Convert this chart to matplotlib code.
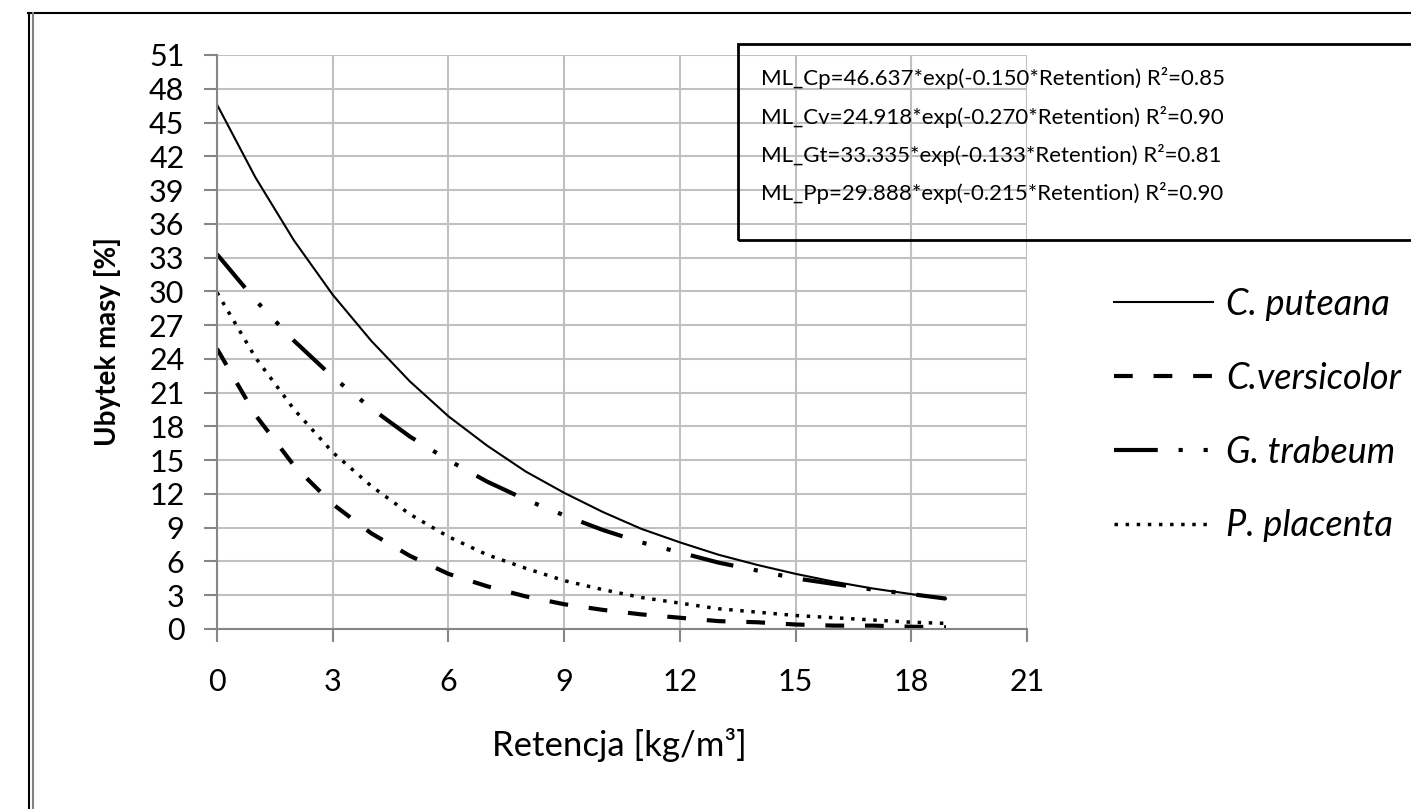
import matplotlib
matplotlib.use("Agg")
import matplotlib.pyplot as plt
from matplotlib.lines import Line2D
from matplotlib.patches import Rectangle

plt.rcParams["font.family"] = ["Lato", "DejaVu Sans"]

# values (retention in kg/m3, mass loss in %)
retention = [0, 1, 2, 3, 4, 5, 6, 7, 8, 9, 10, 11, 12, 13, 14, 15, 16, 17, 18, 18.9]
ml_cp = [46.6, 40.1, 34.5, 29.7, 25.6, 22.0, 18.9, 16.3, 14.0, 12.1,
         10.4, 8.9, 7.7, 6.6, 5.7, 4.9, 4.2, 3.6, 3.1, 2.7]
ml_cv = [24.9, 19.0, 14.5, 11.1, 8.5, 6.5, 4.9, 3.8, 2.9, 2.2,
         1.7, 1.3, 1.0, 0.7, 0.6, 0.4, 0.3, 0.3, 0.2, 0.15]
ml_gt = [33.3, 29.2, 25.6, 22.4, 19.6, 17.1, 15.0, 13.1, 11.5, 10.1,
         8.8, 7.7, 6.8, 5.9, 5.2, 4.5, 4.0, 3.5, 3.1, 2.7]
ml_pp = [29.9, 24.1, 19.5, 15.7, 12.7, 10.2, 8.2, 6.6, 5.4, 4.3,
         3.5, 2.8, 2.3, 1.8, 1.5, 1.2, 1.0, 0.8, 0.6, 0.5]

species = ["C. puteana", "C.versicolor", "G. trabeum", "P. placenta"]
equations = [
    "ML_Cp=46.637*exp(-0.150*Retention) R²=0.85",
    "ML_Cv=24.918*exp(-0.270*Retention) R²=0.90",
    "ML_Gt=33.335*exp(-0.133*Retention) R²=0.81",
    "ML_Pp=29.888*exp(-0.215*Retention) R²=0.90",
]
xticks = list(range(0, 22, 3))
yticks = list(range(0, 52, 3))

W, H = 1411, 809
fig = plt.figure(figsize=(W / 100, H / 100), dpi=100)
ax = fig.add_axes([217 / W, 1 - 629 / H, 810 / W, 574 / H])

ax.plot(retention, ml_cp, color="black", lw=1.5, label=species[0])
ax.plot(retention, ml_cv, color="black", lw=3, ls=(0, (4.5, 5)), label=species[1])
ax.plot(retention, ml_gt, color="black", lw=3, ls=(0, (10.5, 5, 1, 5, 1, 5)), label=species[2])
ax.plot(retention, ml_pp, color="black", lw=2.5, ls=(0, (1, 2.2)), label=species[3])

ax.set_xlim(0, 21)
ax.set_ylim(0, 51)
ax.set_xticks(xticks)
ax.set_yticks(yticks)
ax.grid(True, color="#c0c0c0", lw=1.5)
ax.set_axisbelow(True)
for s in ["top", "right"]:
    ax.spines[s].set_visible(False)
for s in ["left", "bottom"]:
    ax.spines[s].set_color("#868686")
    ax.spines[s].set_linewidth(1.5)
ax.tick_params(axis="both", colors="#868686", width=1.5, length=9.4, labelsize=22,
               labelcolor="black")
ax.tick_params(axis="y", pad=14)
ax.tick_params(axis="x", pad=19)

ax.set_xlabel("Retencja [kg/m³]", fontsize=25)
ax.xaxis.set_label_coords(0.497, -0.172)
ax.set_ylabel("Ubytek masy [%]", fontsize=20, fontweight="bold")
ax.yaxis.set_label_coords(-0.118, 0.5)

# legend with species names
ax.legend(loc="upper left", bbox_to_anchor=(1096 / W, 1 - 270 / H),
          bbox_transform=fig.transFigure, frameon=False, borderpad=0,
          handlelength=2.75, handletextpad=0.35, labelspacing=1.13,
          prop={"family": "Lato", "style": "italic", "size": 26})

# box with fitted equations
fig.patches.append(Rectangle((738 / W, 1 - 240 / H), 700 / W, 196 / H,
                             transform=fig.transFigure, fill=False,
                             edgecolor="black", lw=2))
for i, eq in enumerate(equations):
    fig.text(761 / W, 1 - (78 + 38.5 * i) / H, eq, fontsize=16, va="center")

# outer frame
fig.lines.append(Line2D([28 / W, 1.01], [1 - 13 / H, 1 - 13 / H],
                        transform=fig.transFigure, color="black", lw=1.5))
fig.lines.append(Line2D([28.5 / W, 28.5 / W], [-0.01, 1 - 13 / H],
                        transform=fig.transFigure, color="black", lw=1.5))
fig.lines.append(Line2D([33 / W, 33 / W], [-0.01, 1 - 13 / H],
                        transform=fig.transFigure, color="#808080", lw=1.5))

fig.savefig("out.png", dpi=100)
